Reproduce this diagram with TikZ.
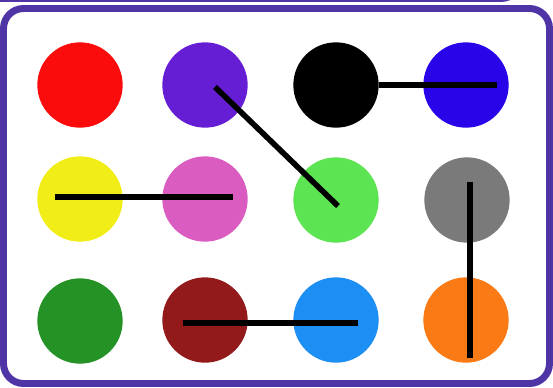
\documentclass[tikz,border=0pt]{standalone}
\usetikzlibrary{calc}

\definecolor{framepurple}{RGB}{78,52,165}
\definecolor{cRed}{RGB}{250,12,12}
\definecolor{cViolet}{RGB}{102,30,212}
\definecolor{cBlue}{RGB}{42,4,232}
\definecolor{cYellow}{RGB}{240,238,22}
\definecolor{cPink}{RGB}{218,92,192}
\definecolor{cLime}{RGB}{92,228,82}
\definecolor{cGray}{RGB}{122,122,122}
\definecolor{cGreen}{RGB}{36,146,36}
\definecolor{cMaroon}{RGB}{146,26,26}
\definecolor{cSky}{RGB}{28,142,244}
\definecolor{cOrange}{RGB}{250,122,22}

\tikzset{
    dot/.style={circle, inner sep=0pt, minimum size=64pt},
    link/.style={line width=4.2pt, black},
    frame/.style={line width=5.2pt, framepurple, rounded corners=15pt}
}

\begin{document}
\begin{tikzpicture}[x=0.75pt, y=-0.75pt]
    \useasboundingbox (0,0) rectangle (553,387);
    \clip (0,0) rectangle (553,387);
    \fill[white] (0,0) rectangle (553,387);

    % frames
    \draw[frame] (-20,-40) rectangle (521,-1.5);
    \draw[frame] (3.5,8.5) rectangle (549.5,383.5);

    % first row
    \node[dot, fill=cRed] (red) at (80,85) {};
    \node[dot, fill=cViolet] (violet) at (205,85) {};
    \node[dot, fill=black] (black) at (336,85) {};
    \node[dot, fill=cBlue] (blue) at (466,85) {};

    % second row
    \node[dot, fill=cYellow] (yellow) at (80,199) {};
    \node[dot, fill=cPink] (pink) at (205,199) {};
    \node[dot, fill=cLime] (lime) at (336,200) {};
    \node[dot, fill=cGray] (gray) at (467,200) {};

    % third row
    \node[dot, fill=cGreen] (green) at (80,321) {};
    \node[dot, fill=cMaroon] (maroon) at (205,320) {};
    \node[dot, fill=cSky] (sky) at (336,320) {};
    \node[dot, fill=cOrange] (orange) at (466,320) {};

    % links
    \draw[link] ($(violet)+(10,2)$) -- ($(lime)+(2,6)$);
    \draw[link] (black) -- ($(blue)+(31,0)$);
    \draw[link] ($(yellow)+(-25,-2)$) -- ($(pink)+(28,-2)$);
    \draw[link] ($(gray)+(3,-18)$) -- ($(orange)+(4,38)$);
    \draw[link] ($(maroon)+(-22,3)$) -- ($(sky)+(22,3)$);
\end{tikzpicture}
\end{document}
